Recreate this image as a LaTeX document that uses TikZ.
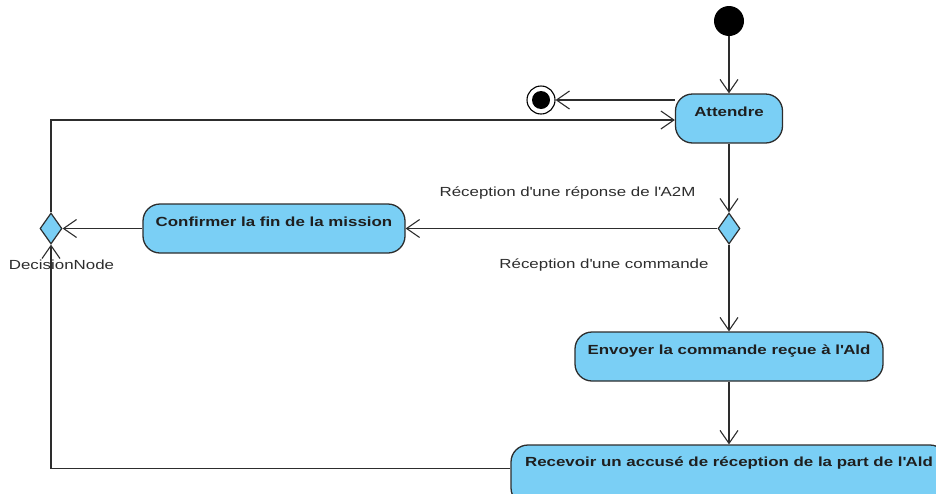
\documentclass[tikz,border=0pt]{standalone}
\usepackage{fontspec}
\newfontfamily\vpfont{Liberation Sans}[FakeStretch=1.28]
\usetikzlibrary{shapes.geometric,arrows.meta}
\definecolor{vpblue}{RGB}{122,207,245}
\definecolor{vpline}{RGB}{45,45,45}
\pgfdeclarelayer{bg}
\pgfsetlayers{bg,main}
\begin{document}
\begin{tikzpicture}[x=1pt,y=-1pt,
  action/.style={draw=vpline, line width=1.3pt, fill=vpblue, rounded corners=17pt, inner sep=0pt,
    text height=9pt, text depth=13.7pt, minimum height=49pt,
    font=\vpfont\fontsize{13.2}{15}\selectfont\bfseries, text=black!88},
  decision/.style={diamond, draw=vpline, line width=1.2pt, fill=vpblue, minimum width=22pt, minimum height=31pt, inner sep=0pt},
  flow/.style={draw=vpline, line width=1.1pt, -{Straight Barb[length=13pt,width=18pt]}},
  lbl/.style={font=\vpfont\fontsize{13.2}{15}\selectfont, text=vpline, inner sep=0pt},
]
\useasboundingbox (0,0) rectangle (936,493);
\clip (0,0) rectangle (936,493);

\node[action, minimum width=107pt] (attendre) at (729,118.5) {Attendre};
\node[action, minimum width=262pt] (confirmer) at (274,228.5) {Confirmer la fin de la mission};
\node[action, minimum width=308pt] (envoyer) at (729,356.5) {Envoyer la commande reçue à l\textquotesingle Ald};
\node[action, minimum width=436pt, minimum height=60pt, text depth=25.7pt] (recevoir) at (729,475) {Recevoir un accusé de réception de la part de l\textquotesingle Ald};
\node[decision] (dr) at (729,228.5) {};
\node[decision] (dl) at (51,228.5) {};
\node[circle, fill=black, minimum size=30pt, inner sep=0pt] (start) at (729,21) {};
\node[circle, draw=black, line width=1.1pt, fill=white, minimum size=28pt, inner sep=0pt] (end) at (541,100) {};
\fill[black] (end.center) circle[radius=9pt];

\node[lbl] (l1) at (567.5,193) {Réception d\textquotesingle une réponse de l\textquotesingle A2M};
\node[lbl] (l2) at (604,265) {Réception d\textquotesingle une commande};
\node[lbl] (l3) at (61.5,265) {DecisionNode};

\begin{pgfonlayer}{bg}
\draw[flow] (start) -- (attendre);
\draw[flow] ([yshift=18.5pt]attendre.west) -- (end);
\draw[flow] (dl.north) |- ([yshift=-1.5pt]attendre.west);
\draw[flow] (attendre) -- (dr);
\draw[flow] (dr) -- (confirmer);
\draw[flow] (confirmer) -- (dl);
\draw[flow] (dr) -- (envoyer);
\draw[flow] (envoyer) -- (recevoir);
\draw[flow] ([yshift=6.5pt]recevoir.west) -| (dl.south);
\end{pgfonlayer}
\end{tikzpicture}
\end{document}
